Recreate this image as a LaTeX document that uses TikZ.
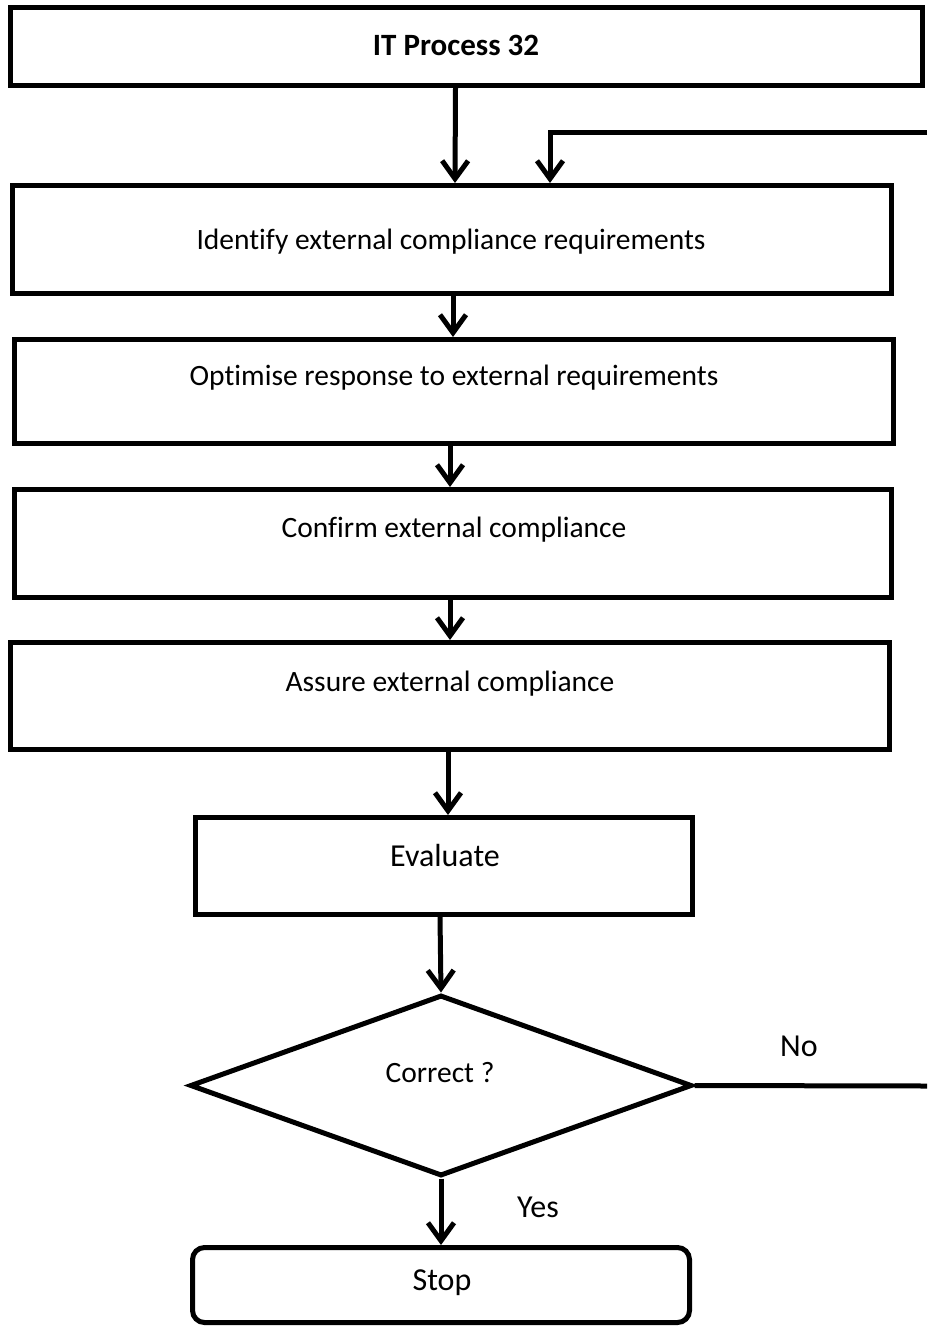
\documentclass[tikz,border=0pt]{standalone}
\usepackage{fontspec}
\setmainfont{Carlito}[Ligatures=NoCommon]
\usetikzlibrary{arrows.meta,shapes.geometric}
\begin{document}
\begin{tikzpicture}[x=1pt,y=-1pt,
  line width=5pt,
  stepbox/.style={draw, rectangle, inner sep=0pt},
  lbl/.style={font=\fontsize{29.5}{34}\selectfont, inner sep=0pt},
  biglbl/.style={font=\fontsize{32}{36}\selectfont, inner sep=0pt},
  arr/.style={-{Straight Barb[length=18pt,width=26pt,line width=5pt]}},
]
\useasboundingbox (0,0) rectangle (927,1328);

% process boxes
\node[stepbox, minimum width=912pt, minimum height=78pt] (b1) at (466.5,46.5) {};
\node[stepbox, minimum width=879pt, minimum height=108pt] (b2) at (452,239.5) {};
\node[stepbox, minimum width=879pt, minimum height=104pt] (b3) at (454,391.5) {};
\node[stepbox, minimum width=877pt, minimum height=108pt] (b4) at (453,543.5) {};
\node[stepbox, minimum width=879pt, minimum height=107pt] (b5) at (450,696) {};
\node[stepbox, minimum width=497pt, minimum height=97pt] (b6) at (444,866) {};
\node[draw, diamond, minimum width=502pt, minimum height=181pt, inner sep=0pt] (dec) at (441,1085.5) {};
\node[draw, rectangle, rounded corners=12pt, minimum width=497pt, minimum height=75pt] (stop) at (441,1285) {};

% box texts
\node[inner sep=0pt, font=\fontsize{31}{36}\selectfont\bfseries] (t1) at (456,45) {IT Process 32};
\node[lbl] (t2) at (451,242) {Identify external compliance requirements};
\node[lbl] (t3) at (454,378) {Optimise response to external requirements};
\node[lbl] (t4) at (454,530) {Confirm external compliance};
\node[lbl] (t5) at (450,684) {Assure external compliance};
\node[biglbl] (t6) at (445,855) {Evaluate};
\node[lbl] (t7) at (440,1073) {Correct ?};
\node[biglbl] (t8) at (442,1283) {Stop};
\node[biglbl] (no) at (799,1046) {No};
\node[biglbl] (yes) at (538,1207) {Yes};

% connectors
\coordinate (fbin) at (927,132);
\coordinate (noout) at (927,1086);
\draw[arr] ([xshift=-11pt]b1.south) -- ([xshift=3pt]b2.north);
\draw[arr] (fbin) -| ([xshift=98pt]b2.north);
\draw[arr] ([xshift=1pt]b2.south) -- ([xshift=-1pt]b3.north);
\draw[arr] ([xshift=-4pt]b3.south) -- ([xshift=-3pt]b4.north);
\draw[arr] ([xshift=-3pt]b4.south) -- (b5.north);
\draw[arr] ([xshift=-2pt]b5.south) -- ([xshift=4pt]b6.north);
\draw[arr] ([xshift=-4pt]b6.south) -- (dec.north);
\draw (dec.east) -- (noout);
\draw[arr] (dec.south) -- (stop.north);
\end{tikzpicture}
\end{document}
